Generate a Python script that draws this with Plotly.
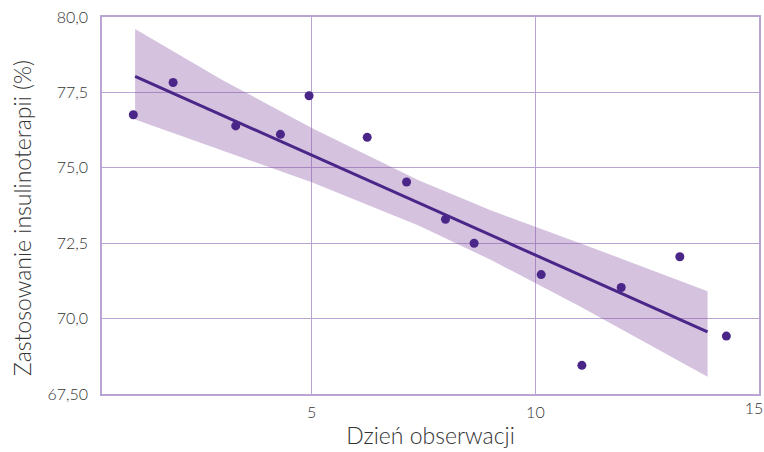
import plotly.graph_objects as go

# Observed points
day = [1.01, 1.90, 3.30, 4.30, 4.94, 6.24, 7.12, 7.99, 8.63, 10.13, 11.04, 11.92, 13.23, 14.27]
insulin_pct = [76.76, 77.83, 76.39, 76.11, 77.39, 76.01, 74.53, 73.29, 72.50, 71.46, 68.45, 71.03, 72.05, 69.42]

# Regression line end points
fit_x = [1.05, 13.85]
fit_y = [78.03, 69.56]

# Confidence band
band_x = [1.05, 3.0, 5.0, 7.4, 9.0, 11.0, 13.85]
band_upper = [79.60, 77.91, 76.32, 74.58, 73.59, 72.50, 70.91]
band_lower = [76.60, 75.57, 74.52, 73.08, 71.95, 70.40, 68.07]

y_ticks = [67.5, 70.0, 72.5, 75.0, 77.5, 80.0]
y_ticktext = ["67,50", "70,0", "72,5", "75,0", "77,5", "80,0"]
x_ticks = [5, 10, 15]
x_ticktext = ["5", "10", "15"]

DARK = "#4b2689"
GRID = "#b8a5d2"
TXT = "#333333"
FONT = "Lato"
X_RANGE = [0.31, 15.0001]

fig = go.Figure()
fig.add_trace(go.Scatter(
    x=band_x + band_x[::-1], y=band_upper + band_lower[::-1],
    fill="toself", fillcolor="rgba(132,81,164,0.35)",
    line=dict(width=0), mode="lines", hoverinfo="skip", showlegend=False))
fig.add_trace(go.Scatter(x=fit_x, y=fit_y, mode="lines",
                         line=dict(color=DARK, width=3), showlegend=False))
fig.add_trace(go.Scatter(x=day, y=insulin_pct, mode="markers", xaxis="x2",
                         marker=dict(color=DARK, size=9), showlegend=False))

tickfont = dict(size=16, color=TXT, weight=300)
fig.update_layout(
    width=764, height=452,
    margin=dict(l=102, r=5, t=17, b=58),
    paper_bgcolor="white", plot_bgcolor="white",
    font=dict(family=FONT, color=TXT),
    xaxis=dict(range=X_RANGE, tickvals=x_ticks[:2], ticktext=x_ticktext[:2],
               showgrid=True, gridcolor=GRID, gridwidth=1,
               showline=True, linecolor=GRID, linewidth=1.5, mirror=True,
               zeroline=False, ticks="", tickfont=tickfont,
               ticklabelstandoff=3,
               title=dict(text="Dzień obserwacji", font=dict(size=23, color=TXT, weight=300),
                          standoff=8),
               automargin=False),
    xaxis2=dict(range=X_RANGE, overlaying="x", side="bottom", anchor="y",
                tickvals=x_ticks[2:], ticktext=x_ticktext[2:],
                showgrid=False, showline=False, zeroline=False, ticks="",
                tickfont=tickfont, ticklabelstandoff=3, ticklabelshift=-5,
                ticklabeloverflow="allow", automargin=False),
    yaxis=dict(range=[67.5, 80.0], tickvals=y_ticks, ticktext=y_ticktext,
               showgrid=True, gridcolor=GRID, gridwidth=1,
               showline=True, linecolor=GRID, linewidth=1.5, mirror=True,
               zeroline=False, ticks="", tickfont=tickfont,
               ticklabelstandoff=9,
               automargin=False),
    annotations=[dict(text="Zastosowanie insulinoterapii (%)", textangle=-90,
                      xref="paper", yref="paper", x=0, xshift=-80, y=0.467,
                      xanchor="center", yanchor="middle", showarrow=False,
                      font=dict(size=23, color=TXT, weight=300))],
)

fig.write_html("out.html")
